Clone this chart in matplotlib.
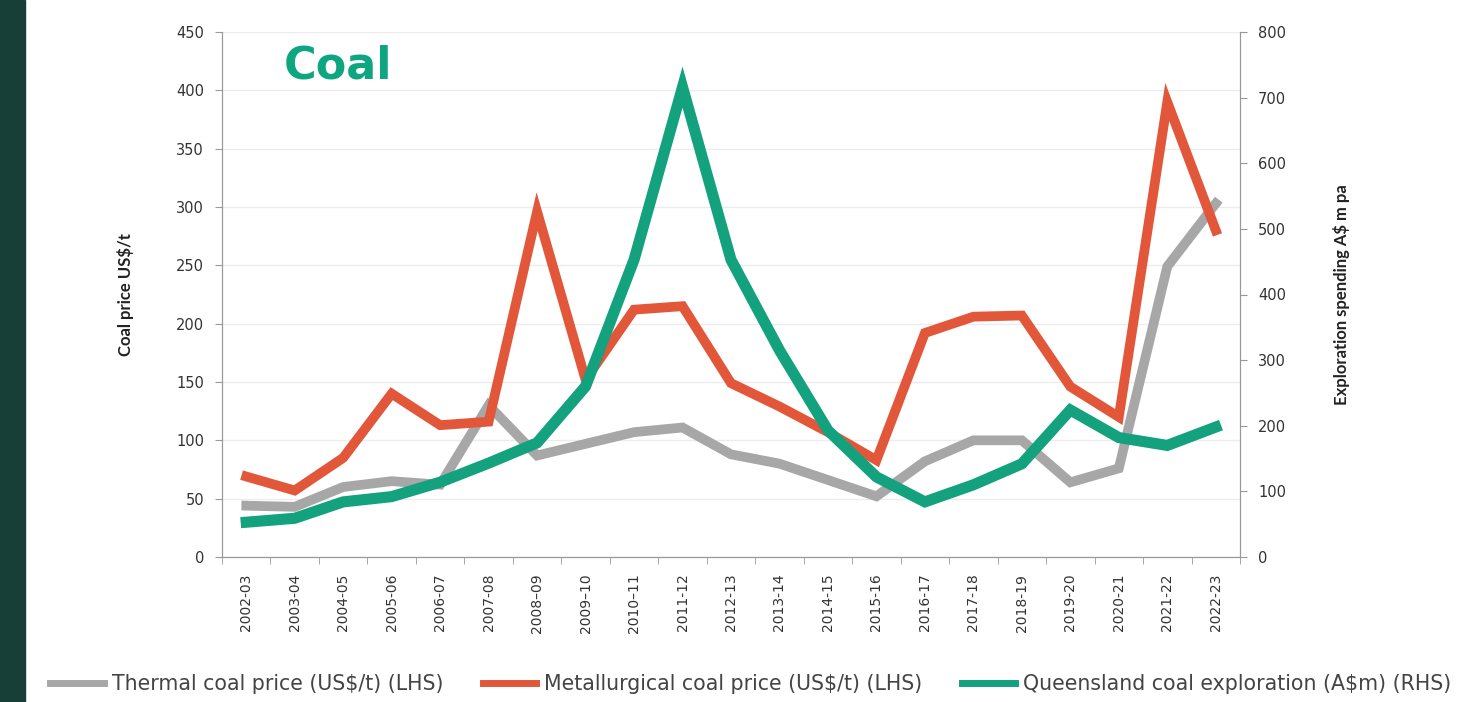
import numpy as np
import matplotlib
matplotlib.use("Agg")
import matplotlib.pyplot as plt
from matplotlib.lines import Line2D

# data
years = ["2002-03", "2003-04", "2004-05", "2005-06", "2006-07", "2007-08",
         "2008\u201309", "2009\u201310", "2010\u201311", "2011-12", "2012-13",
         "2013-14", "2014-15", "2015-16", "2016-17", "2017-18", "2018-19",
         "2019-20", "2020-21", "2021-22", "2022-23"]
thermal = [44, 43, 60, 65, 62, 130, 87, 97, 107, 111, 88, 80, 66, 52, 82, 100, 100, 64, 76, 249, 303]
metallurgical = [69, 57, 85, 140, 113, 116, 296, 152, 212, 215, 149, 129, 107, 83, 192, 206, 207, 146, 120, 390, 280]
qld_exploration = [53, 59, 84, 92, 114, 143, 174, 260, 453, 716, 453, 315, 193, 122, 84, 110, 142, 224, 182, 170, 198]

grey = "#a7a7a7"
red = "#e2573a"
green = "#13a17e"
txt = "#333333"

plt.rcParams["font.family"] = ["DejaVu Sans"]

fig = plt.figure(figsize=(14.61, 7.02), dpi=100)
fig.patch.set_facecolor("white")
# dark strip at the left edge
fig.add_artist(plt.Rectangle((0, 0), 25 / 1461, 1, transform=fig.transFigure,
                             color="#173f37", zorder=0))

ax = fig.add_axes([222 / 1461, 1 - 557 / 702, 1018 / 1461, 525 / 702])
x = np.arange(len(years))

ax.plot(x, thermal, color=grey, lw=7, solid_joinstyle="miter", zorder=3)
ax.plot(x, metallurgical, color=red, lw=7, solid_joinstyle="miter", zorder=4)
ax.set_ylim(0, 450)
ax.set_yticks(np.arange(0, 451, 50))
ax.set_xlim(-0.5, len(years) - 0.5)
ax.set_xticks(x)
ax.set_xticklabels(years, rotation=90, fontsize=10, color=txt)
ax.set_xticks(np.arange(-0.5, len(years), 1), minor=True)
ax.tick_params(axis="x", which="major", length=0, pad=12)
ax.tick_params(axis="x", which="minor", length=5, color="#999999")
ax.tick_params(axis="y", labelsize=10.5, labelcolor=txt, length=5, color="#999999", pad=8)
ax.grid(axis="y", color="#ececec", lw=1)
ax.set_axisbelow(True)
ax.spines["top"].set_visible(False)
for s in ["left", "bottom", "right"]:
    ax.spines[s].set_color("#999999")
ax.set_ylabel("Coal price US$/t", fontsize=12, fontweight="bold", color="#222222",
              labelpad=30, family=["Lato", "DejaVu Sans"])

ax2 = ax.twinx()
ax2.plot(x, qld_exploration, color=green, lw=8, solid_joinstyle="miter", zorder=5)
ax2.set_ylim(0, 800)
ax2.set_yticks(np.arange(0, 801, 100))
ax2.tick_params(axis="y", labelsize=10.5, labelcolor=txt, length=5, color="#999999", pad=8)
ax2.spines["top"].set_visible(False)
for s in ["left", "bottom", "right"]:
    ax2.spines[s].set_color("#999999")
ax2.set_ylabel("Exploration spending A$ m pa", fontsize=12, fontweight="bold",
               color="#222222", labelpad=34, family=["Lato", "DejaVu Sans"])

ax.text(0.061, 0.935, "Coal", transform=ax.transAxes, fontsize=32, fontweight="bold",
        color="#0ea581", va="center")

handles = [Line2D([], [], color=grey, lw=5),
           Line2D([], [], color=red, lw=5),
           Line2D([], [], color=green, lw=5)]
labels = ["Thermal coal price (US$/t) (LHS)", "Metallurgical coal price (US$/t) (LHS)",
          "Queensland coal exploration (A$m) (RHS)"]
fig.legend(handles, labels, loc="center", bbox_to_anchor=(0.514, 1 - 684 / 702), ncol=3,
           frameon=False, fontsize=14.8, handlelength=2.6, handletextpad=0.4,
           columnspacing=1.9, labelcolor="#444444")

fig.savefig("out.png", dpi=100, facecolor="white")
